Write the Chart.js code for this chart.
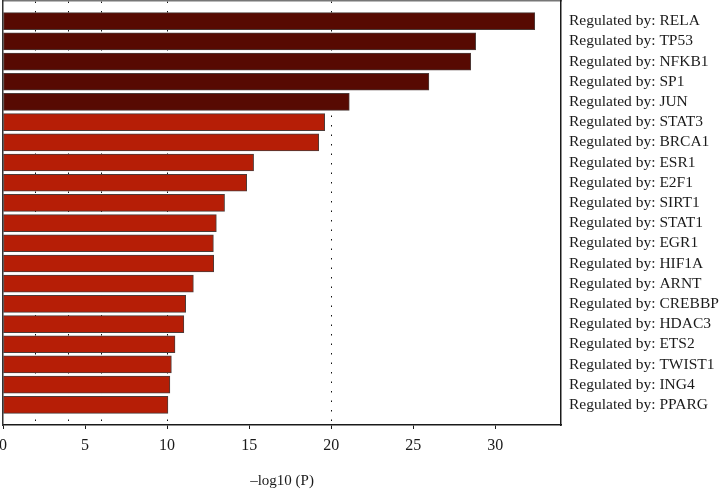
<!DOCTYPE html>
<html>
<head>
<meta charset="utf-8">
<script src="https://cdn.jsdelivr.net/npm/chart.js@4"></script>
<style>
  html, body { margin: 0; padding: 0; background: #fff; }
</style>
</head>
<body>
<canvas id="chart" width="722" height="490"></canvas>
<script>
// enrichment terms, top to bottom
const regulators = ['RELA', 'TP53', 'NFKB1', 'SP1', 'JUN', 'STAT3', 'BRCA1', 'ESR1', 'E2F1', 'SIRT1',
    'STAT1', 'EGR1', 'HIF1A', 'ARNT', 'CREBBP', 'HDAC3', 'ETS2', 'TWIST1', 'ING4', 'PPARG'];
const logP = [32.4, 28.8, 28.5, 25.95, 21.1, 19.6, 19.24, 15.27, 14.85, 13.5,
    13.0, 12.82, 12.84, 11.6, 11.13, 11.02, 10.48, 10.26, 10.17, 10.05];
const darkCount = 5;
const xTicks = [0, 5, 10, 15, 20, 25, 30];
const guideLines = [2, 4, 6, 10, 20];

const serif = 'Liberation Serif';
const ink = '#1a1a1a';

// no extra room for the end labels, the frame sits at the canvas edge
const noPad = s => { s.paddingTop = 0; s.paddingBottom = 0; s.paddingLeft = 0; s.paddingRight = 0; };

const ctx = document.getElementById('chart');
new Chart(ctx, {
    type: 'bar',
    data: {
        datasets: [{
            data: logP.map((v, i) => ({ x: v, y: i + 1 })),
            backgroundColor: logP.map((_, i) => i < darkCount ? '#570a02' : '#b61e06'),
            borderColor: '#4d3b38',
            borderWidth: 1,
            borderSkipped: false,
            barThickness: 17,
            xAxisID: 'x',
            yAxisID: 'y'
        }]
    },
    options: {
        indexAxis: 'y',
        responsive: false,
        animation: false,
        layout: { padding: { left: 3, top: 1, right: 0, bottom: 0 } },
        plugins: { legend: { display: false }, tooltip: { enabled: false } },
        scales: {
            x: {
                type: 'linear', position: 'bottom', min: 0, max: 34,
                afterBuildTicks: s => { s.ticks = xTicks.map(v => ({ value: v })); },
                afterFit: s => { s.height = 65; noPad(s); },
                grid: { drawOnChartArea: false, drawTicks: true, tickLength: 4, tickColor: ink, tickWidth: 1 },
                border: { display: true, color: ink, width: 1.5 },
                ticks: { font: { family: serif, size: 16 }, color: ink, padding: 7, maxRotation: 0 },
                title: { display: true, text: '\u2013log10 (P)', font: { family: serif, size: 15 }, color: ink, padding: { top: 0, bottom: 0 } }
            },
            x2: {
                type: 'linear', position: 'top', min: 0, max: 34,
                afterBuildTicks: s => { s.ticks = guideLines.map(v => ({ value: v })); },
                afterFit: s => { s.height = 0; noPad(s); },
                grid: { drawTicks: false, color: '#111', lineWidth: 1 },
                border: { display: true, color: '#777', width: 1.5, dash: [1.5, 8] },
                ticks: { display: false }
            },
            y: {
                type: 'linear', position: 'right', reverse: true, min: 0, max: 21, offset: false,
                afterBuildTicks: s => { s.ticks = regulators.map((_, i) => ({ value: i + 1 })); },
                afterFit: s => { s.width = 161; noPad(s); },
                grid: { display: false, drawTicks: false, offset: false },
                border: { display: true, color: ink, width: 1.5 },
                ticks: {
                    autoSkip: false, padding: 8, color: ink,
                    font: { family: serif, size: 15.5 },
                    callback: v => 'Regulated by: ' + regulators[v - 1]
                }
            },
            yl: {
                type: 'linear', position: 'left', min: 0, max: 21, offset: false,
                afterFit: s => { s.width = 0; noPad(s); },
                grid: { display: false, drawTicks: false },
                border: { display: true, color: '#333', width: 1.5 },
                ticks: { display: false }
            }
        }
    }
});
</script>
</body>
</html>
